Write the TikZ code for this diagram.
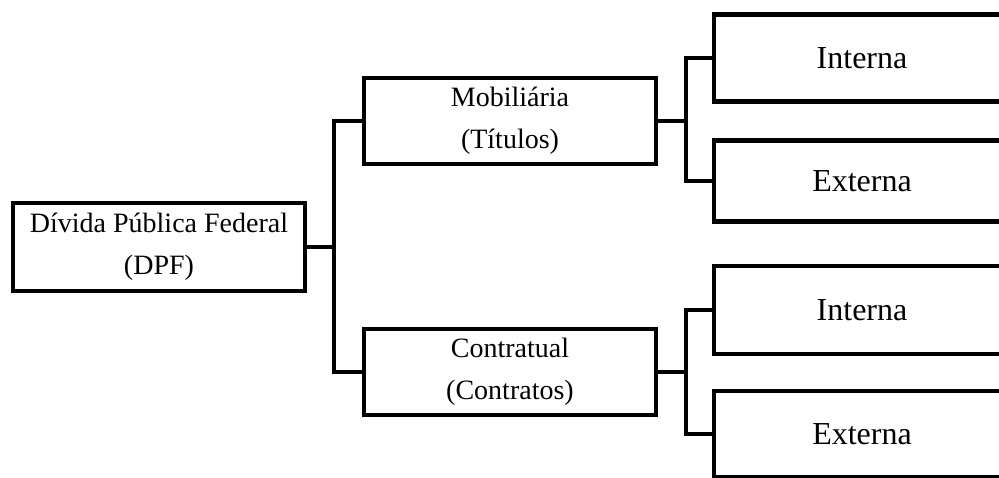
\documentclass[tikz,border=0pt]{standalone}
\usepackage{fontspec}
\setmainfont{Liberation Serif}
\begin{document}
\begin{tikzpicture}[x=0.75pt,y=-0.75pt,
  box/.style={draw=black,line width=3.5pt,fill=white,inner sep=0pt,align=center},
  wide/.style={box,minimum width=219pt,font=\fontsize{21pt}{31.5pt}\selectfont},
  leaf/.style={box,minimum width=222pt,font=\fontsize{24pt}{29pt}\selectfont},
  link/.style={draw=black,line width=3.5pt}]
  \useasboundingbox (0,0) rectangle (999,478);
  \clip (0,0) rectangle (999,478);

  % root and second level
  \node[wide,minimum height=66pt] (dpf) at (159,247) {Dívida Pública Federal\\(DPF)};
  \node[wide,minimum height=64.5pt] (mob) at (510,121) {Mobiliária\\(Títulos)};
  \node[wide,minimum height=64.5pt] (con) at (510,372) {Contratual\\(Contratos)};

  % leaves (run past the right edge)
  \node[leaf,minimum height=65.25pt] (mi) at (862,58) {Interna};
  \node[leaf,minimum height=61pt] (me) at (862,181) {Externa};
  \node[leaf,minimum height=66pt] (ci) at (862,310) {Interna};
  \node[leaf,minimum height=64.5pt] (ce) at (862,434) {Externa};

  % junction points of the bracket connectors
  \coordinate (j0) at (334,247);
  \coordinate (j1) at (686,121);
  \coordinate (j2) at (686,372);

  \draw[link] (dpf.east) -- (j0);
  \draw[link] (mob.west) -| (j0) |- (con.west);

  \draw[link] (mob.east) -- (j1);
  \draw[link] (mi.west) -| (j1) |- (me.west);

  \draw[link] (con.east) -- (j2);
  \draw[link] (ci.west) -| (j2) |- (ce.west);
\end{tikzpicture}
\end{document}
